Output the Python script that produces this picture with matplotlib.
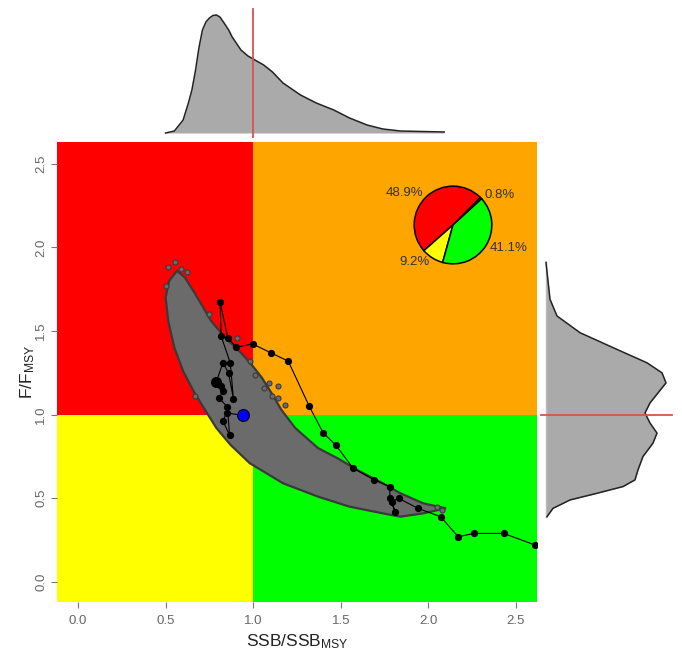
import matplotlib
matplotlib.use("Agg")
import matplotlib.pyplot as plt
import numpy as np
from matplotlib.patches import Polygon

plt.rcParams['font.family'] = ['Liberation Sans', 'DejaVu Sans']
plt.rcParams['mathtext.fontset'] = 'custom'
plt.rcParams['mathtext.rm'] = 'Liberation Sans'
plt.rcParams['mathtext.it'] = 'Liberation Sans:italic'

# ---------------- data ----------------
xlim = (-0.12, 2.62)
ylim = (-0.12, 2.63)
xticks = [0.0, 0.5, 1.0, 1.5, 2.0, 2.5]
yticks = [0.0, 0.5, 1.0, 1.5, 2.0, 2.5]

# outline of the joint uncertainty cloud (SSB/SSBmsy, F/Fmsy)
cloud_x = [0.565, 0.61, 0.67, 0.76, 0.84, 0.93, 0.99, 1.05, 1.11, 1.16, 1.24, 1.37,
           1.48, 1.61, 1.74, 1.84, 1.97, 2.10, 1.97, 1.84, 1.74, 1.55, 1.37, 1.17,
           0.98, 0.93, 0.87, 0.79, 0.73, 0.66, 0.60, 0.55, 0.515, 0.50, 0.52]
cloud_y = [1.86, 1.82, 1.72, 1.56, 1.46, 1.37, 1.30, 1.22, 1.12, 1.03, 0.92, 0.80,
           0.74, 0.66, 0.59, 0.53, 0.47, 0.44, 0.41, 0.39, 0.41, 0.45, 0.51, 0.59,
           0.71, 0.76, 0.82, 0.92, 1.02, 1.14, 1.26, 1.40, 1.56, 1.70, 1.80]
# stray points outside the cloud outline
stray_x = [0.555, 0.515, 0.59, 0.50, 0.75, 0.91, 0.98, 1.06, 1.14, 0.67, 1.14, 1.18,
           1.11, 2.05, 2.08, 0.62, 1.01, 1.09]
stray_y = [1.91, 1.88, 1.87, 1.77, 1.60, 1.46, 1.32, 1.16, 1.10, 1.11, 1.17, 1.06,
           1.11, 0.45, 0.43, 1.85, 1.24, 1.19]

# stock trajectory
traj_x = [2.61, 2.43, 2.26, 2.17, 2.07, 1.94, 1.83, 1.79, 1.81, 1.78, 1.78, 1.69, 1.57,
          1.47, 1.40, 1.32, 1.20, 1.10, 0.996, 0.903, 0.855, 0.811, 0.817, 0.869, 0.887,
          0.859, 0.827, 0.789, 0.815, 0.827, 0.806, 0.853, 0.865, 0.827, 0.849]
traj_y = [0.22, 0.29, 0.29, 0.27, 0.39, 0.44, 0.50, 0.48, 0.42, 0.50, 0.57, 0.61, 0.68,
          0.82, 0.89, 1.05, 1.32, 1.37, 1.423, 1.403, 1.459, 1.672, 1.469, 1.31, 1.096,
          1.25, 1.31, 1.196, 1.17, 1.14, 1.10, 1.044, 0.876, 0.964, 1.01]
final_x = 0.941
final_y = 0.996

# marginal densities (relative heights)
ssb_x = [0.50, 0.55, 0.60, 0.63, 0.65, 0.67, 0.69, 0.71, 0.73, 0.75, 0.77, 0.79, 0.81,
         0.83, 0.86, 0.88, 0.93, 0.97, 1.00, 1.06, 1.11, 1.17, 1.27, 1.36, 1.46, 1.55,
         1.65, 1.74, 1.84, 2.09]
ssb_d = [0, 2, 13, 30, 43, 62, 85, 103, 111, 115, 117.5, 118, 116, 111, 103, 96, 83,
         77, 74, 68, 61, 50, 38, 30, 23, 15, 8, 4, 2, 1]
f_y = [1.91, 1.69, 1.59, 1.49, 1.39, 1.31, 1.25, 1.19, 1.13, 1.07, 1.01, 0.95, 0.89,
       0.83, 0.75, 0.67, 0.61, 0.57, 0.53, 0.49, 0.44, 0.39]
f_d = [0, 4, 11, 34, 71, 101, 116, 120, 112, 104, 99, 104, 111, 107, 97, 92, 89, 77,
       51, 24, 7, 1]

# pie of quadrant probabilities
pie_vals = [0.8, 48.9, 9.2, 41.1]
pie_labels = ['0.8%', '48.9%', '9.2%', '41.1%']
pie_colors = ['#FFA500', '#FF0000', '#FFFF00', '#00FF00']

# ---------------- figure ----------------
W, H = 682, 655
fig = plt.figure(figsize=(W / 100, H / 100), dpi=100)

def rect(l, t, r, b):
    return [l / W, (H - b) / H, (r - l) / W, (b - t) / H]

ax = fig.add_axes(rect(57, 142, 537, 602))
ax.set_xlim(*xlim)
ax.set_ylim(*ylim)

# quadrants
ax.fill_between([xlim[0], 1], 1, ylim[1], color='#FF0000', lw=0, zorder=0)
ax.fill_between([1, xlim[1]], 1, ylim[1], color='#FFA500', lw=0, zorder=0)
ax.fill_between([xlim[0], 1], ylim[0], 1, color='#FFFF00', lw=0, zorder=0)
ax.fill_between([1, xlim[1]], ylim[0], 1, color='#00FF00', lw=0, zorder=0)

# cloud
ax.add_patch(Polygon(np.column_stack([cloud_x, cloud_y]), closed=True,
                     facecolor='#6B6B6B', edgecolor='#3A3A3A', lw=1.6, zorder=2))
ax.scatter(stray_x, stray_y, s=13, facecolor='#6B6B6B', edgecolor='#3A3A3A',
           lw=0.8, zorder=2)

# trajectory
ax.plot(traj_x + [final_x], traj_y + [final_y], color='black', lw=0.8, zorder=3)
ax.plot(traj_x, traj_y, 'o', color='black', ms=4.2, zorder=4)
ax.plot([traj_x[27]], [traj_y[27]], 'o', color='black', ms=7, zorder=4)
ax.plot([final_x], [final_y], 'o', mfc='#0000FF', mec='black', ms=8.5, mew=0.8, zorder=5)

for s in ax.spines.values():
    s.set_visible(False)
ax.set_xticks(xticks)
ax.set_yticks(yticks)
ax.set_xticklabels([f'{v:.1f}' for v in xticks])
ax.set_yticklabels([f'{v:.1f}' for v in yticks], rotation=90, va='center')
ax.tick_params(axis='both', length=4, width=0.8, color='#777777', labelcolor='#666666',
               labelsize=9.5)
ax.tick_params(axis='x', pad=5)
ax.tick_params(axis='y', pad=3)
ax.set_xlabel(r'SSB/SSB$_{\mathrm{MSY}}$', fontsize=12.5, color='#222222', labelpad=4)
ax.set_ylabel(r'F/F$_{\mathrm{MSY}}$', fontsize=12.5, color='#222222', labelpad=-1)

# pie inset
pax = fig.add_axes(rect(413, 185, 493, 265))
wedges, texts = pax.pie(pie_vals, labels=pie_labels, colors=pie_colors, startangle=42.5,
                        counterclock=True, labeldistance=1.12,
                        wedgeprops=dict(edgecolor='black', linewidth=1.1),
                        textprops=dict(fontsize=9.5, color='#333333'))
pax.set_xlim(-1.03, 1.03)
pax.set_ylim(-1.03, 1.03)
pax.axis('off')

# top marginal
tax = fig.add_axes(rect(57, 8, 537, 138))
tax.set_xlim(*xlim)
tax.set_ylim(-5, 125)
tax.fill_between(ssb_x, 0, ssb_d, color='#AAAAAA', lw=0)
tax.plot(ssb_x, ssb_d, color='#222222', lw=1.1)
tax.axvline(1.0, ymin=0, ymax=0.99, color='#D9534F', lw=1.3)
tax.axis('off')

# right marginal
rax = fig.add_axes(rect(540, 142, 680, 602))
rax.set_ylim(*ylim)
rax.set_xlim(-6, 134)
rax.fill_betweenx(f_y, 0, f_d, color='#AAAAAA', lw=0)
rax.plot([0, 0], [min(f_y), max(f_y)], color='#BBBBBB', lw=1.0)
rax.plot(f_d, f_y, color='#222222', lw=1.1)
rax.axhline(1.0, xmin=0, xmax=0.943, color='#D9534F', lw=1.3)
rax.axis('off')

fig.savefig('out.png', dpi=100)
